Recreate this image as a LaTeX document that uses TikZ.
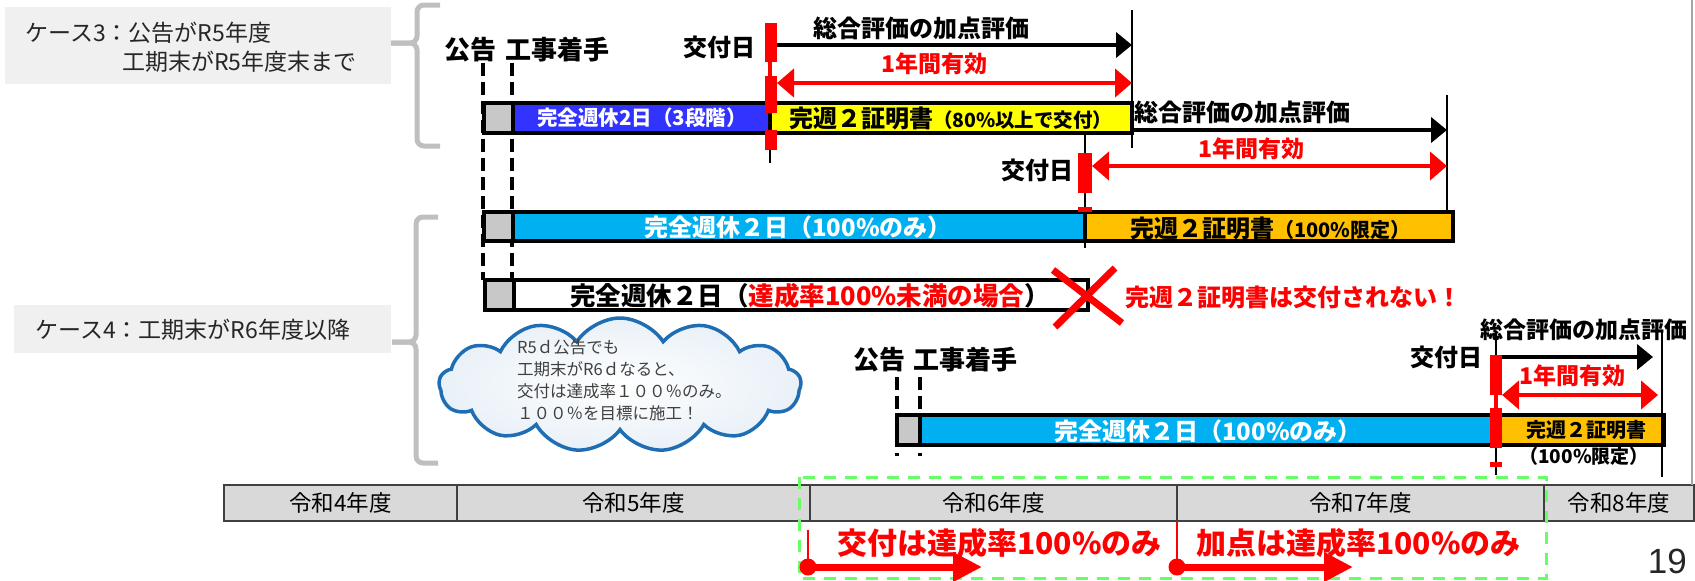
\documentclass[tikz,border=0pt]{standalone}
\usepackage{fontspec}
\setmainfont{Noto Sans CJK JP}
\newfontfamily\latinsans{Liberation Sans}
\usetikzlibrary{arrows.meta,shapes.symbols}
\definecolor{casegray}{HTML}{F0F0F0}
\definecolor{bracegray}{HTML}{BFBFBF}
\definecolor{boxgray}{HTML}{C8C8C8}
\definecolor{barblue}{HTML}{3333FF}
\definecolor{barcyan}{HTML}{00B0F0}
\definecolor{baryellow}{HTML}{FFFF00}
\definecolor{barorange}{HTML}{FFC000}
\definecolor{mred}{HTML}{FF0000}
\definecolor{yeargray}{HTML}{D9D9D9}
\definecolor{cloudblue}{HTML}{1F6DB3}
\definecolor{greendash}{HTML}{66FF66}
\newcommand\fs[1]{\fontsize{#1pt}{#1pt}\selectfont}
\begin{document}
\begin{tikzpicture}[x=1pt,y=-1pt,
  casebox/.style={fill=casegray,draw=none,inner sep=0pt,anchor=north west},
  casetxt/.style={inner sep=0pt,font=\fs{23},text=black!85},
  bracepath/.style={draw=bracegray,line width=5pt,rounded corners=7pt},
  lbl/.style={inner sep=0pt,outer sep=0pt,font=\bfseries\fs{24}},
  seg/.style={draw=black,line width=3.5pt,inner sep=0pt,minimum height=30pt},
  dashln/.style={draw=black,line width=4pt,dash pattern=on 13pt off 6pt},
  thinv/.style={draw=black,line width=1.5pt},
  blkarr/.style={draw=black,line width=4pt,-{Triangle[length=16pt,width=25pt]}},
  redarr/.style={draw=mred,line width=4.5pt,{Triangle[length=17pt,width=28pt]}-{Triangle[length=17pt,width=28pt]}},
  xline/.style={draw=mred,line width=7pt},
  yearcell/.style={draw=black!75,line width=2pt,fill=yeargray,inner sep=0pt,minimum height=36pt,font=\fs{22.5}},
  botarr/.style={draw=mred,line width=7pt,-{Triangle[length=29pt,width=28pt]}},
  botlbl/.style={inner sep=0pt,font=\bfseries\fs{30},text=mred,anchor=west}
]
\useasboundingbox (0,0) rectangle (1695,581);

% case labels
\node[casebox,minimum width=386pt,minimum height=77pt] (c3box) at (5,7) {};
\node[casetxt,anchor=west] (c3l1) at (25,33) {ケース3：公告がR5年度};
\node[casetxt,anchor=west] (c3l2) at (122,62) {工期末がR5年度末まで};
\node[casebox,minimum width=377pt,minimum height=48pt] (c4box) at (14,305) {};
\node[casetxt,anchor=west] (c4l) at (35,330) {ケース4：工期末がR6年度以降};

% braces
\draw[bracepath] (440,5) -- (417,5) -- (417,43) -- (391,43);
\draw[bracepath] (440,146) -- (417,146) -- (417,43) -- (391,43);
\draw[bracepath] (438,217) -- (416,217) -- (416,342) -- (392,342);
\draw[bracepath] (438,463) -- (416,463) -- (416,342) -- (392,342);

% upper start labels and dashed lines
\node[lbl,font=\bfseries\fs{26},anchor=west] (kk1) at (444,50) {公告};
\node[lbl,font=\bfseries\fs{26},anchor=west] (kc1) at (505,50) {工事着手};
\coordinate (d1t) at (483,63); \coordinate (d1b) at (483,280);
\coordinate (d2t) at (512,63); \coordinate (d2b) at (512,280);
\draw[dashln] (d1t) -- (d1b);
\draw[dashln] (d2t) -- (d2b);

% bar 1
\node[seg,fill=boxgray,minimum width=29pt] (b1g) at (498.5,118) {};
\node[seg,fill=barblue,minimum width=257pt] (b1b) at (641.5,118) {};
\node[seg,fill=baryellow,minimum width=362pt] (b1y) at (951,118) {};
\node[lbl,text=white,font=\bfseries\fs{20.5}] (b1bt) at (642,118) {完全週休2日（3段階）};
\node[lbl,anchor=west] (b1yt) at (789,118) {{\fs{24}完週２証明書}{\fs{19.5}（80\%以上で交付）}};

% marker 1
\coordinate (v1t) at (770,23); \coordinate (v1b) at (770,163);
\draw[thinv] (v1t) -- (v1b);
\fill[mred] (765,23) rectangle (777,62);
\draw[mred,line width=4pt] (770,62) -- (770,76);
\fill[mred] (765,76) rectangle (777,113);
\fill[mred] (765,130) rectangle (777,150);
\coordinate (v2t) at (1132,10); \coordinate (v2b) at (1132,148);
\draw[thinv] (v2t) -- (v2b);
\node[lbl,anchor=east] (kf1) at (755,47) {交付日};
\node[lbl] (sg1) at (921,28) {総合評価の加点評価};
\coordinate (a1s) at (777,45); \coordinate (a1e) at (1132,45);
\draw[blkarr] (a1s) -- (a1e);
\node[lbl,text=mred,font=\bfseries\fs{23}] (ye1) at (934,64) {1年間有効};
\coordinate (r1s) at (777,83); \coordinate (r1e) at (1132,83);
\draw[redarr] (r1s) -- (r1e);

% second evaluation group
\node[lbl,anchor=west] (sg2) at (1134,112) {総合評価の加点評価};
\coordinate (v3t) at (1447,95); \coordinate (v3b) at (1447,233);
\draw[thinv] (v3t) -- (v3b);
\coordinate (a2s) at (1134,130); \coordinate (a2e) at (1447,130);
\draw[blkarr] (a2s) -- (a2e);
\node[lbl,text=mred,font=\bfseries\fs{23}] (ye2) at (1251,149) {1年間有効};
\coordinate (r2s) at (1092,166); \coordinate (r2e) at (1447,166);
\draw[redarr] (r2s) -- (r2e);
\node[lbl,anchor=east] (kf2) at (1073,170) {交付日};

% bar 2
\node[seg,fill=boxgray,minimum width=29pt,minimum height=29pt] (b2g) at (498.5,226.5) {};
\node[seg,fill=barcyan,minimum width=572pt,minimum height=29pt] (b2c) at (799,226.5) {};
\node[seg,fill=barorange,minimum width=368pt,minimum height=29pt] (b2o) at (1269,226.5) {};
\node[lbl,text=white] (b2ct) at (798,227) {完全週休２日（100\%のみ）};
\node[lbl,anchor=west] (b2ot) at (1130,228) {{\fs{24}完週２証明書}{\fs{20}（100\%限定）}};
\coordinate (v4t) at (1085,132); \coordinate (v4b) at (1085,248);
\draw[thinv] (v4t) -- (v4b);
\fill[mred] (1078,153) rectangle (1092,193);
\fill[mred] (1078,207) rectangle (1092,212);

% bar 3
\node[seg,fill=boxgray,minimum width=29pt] (b3g) at (499.5,295) {};
\node[seg,fill=white,minimum width=574pt] (b3w) at (801,295) {};
\node[lbl,anchor=west,font=\bfseries\fs{25.5}] (b3t) at (570,296) {完全週休２日（\textcolor{mred}{達成率100\%未満の場合}）};
\draw[xline] (1053,270) -- (1122,323);
\draw[xline] (1115,268) -- (1055,327);
\node[lbl,text=mred,anchor=west] (nx) at (1125,297) {完週２証明書は交付されない！};

% cloud
\node[cloud,cloud puffs=13,cloud puff arc=115,aspect=2.6,minimum width=362pt,minimum height=134pt,
  draw=cloudblue,line width=3.5pt,inner color=white,outer color=cloudblue!10] (cloud) at (620,385) {};
\node[inner sep=0pt,anchor=west,align=left,text=black!75,font=\fontsize{16.5pt}{22pt}\selectfont] (ctext) at (517,380)
  {R5ｄ公告でも\\工期末がR6ｄなると、\\交付は達成率１００％のみ。\\１００％を目標に施工！};

% lower group
\node[lbl,font=\bfseries\fs{26},anchor=west] (kk2) at (853,360) {公告};
\node[lbl,font=\bfseries\fs{26},anchor=west] (kc2) at (913,360) {工事着手};
\coordinate (d3t) at (897,377); \coordinate (d3b) at (897,456);
\coordinate (d4t) at (920,377); \coordinate (d4b) at (920,456);
\draw[dashln,line width=3.5pt] (d3t) -- (d3b);
\draw[dashln,line width=3.5pt] (d4t) -- (d4b);
\node[seg,fill=boxgray,minimum width=23pt] (b4g) at (908.5,430) {};
\node[seg,fill=barcyan,minimum width=574pt] (b4c) at (1207,430) {};
\node[seg,fill=barorange,minimum width=170pt] (b4o) at (1579,430) {};
\node[lbl,text=white] (b4ct) at (1208,431) {完全週休２日（100\%のみ）};
\node[lbl,font=\bfseries\fs{20}] (b4ot) at (1586,430) {完週２証明書};
\node[lbl,font=\bfseries\fs{19}] (b4op) at (1584,456) {（100\%限定）};
\coordinate (v5t) at (1496,333); \coordinate (v5b) at (1496,475);
\draw[thinv] (v5t) -- (v5b);
\coordinate (v6t) at (1662,330); \coordinate (v6b) at (1662,477);
\draw[thinv] (v6t) -- (v6b);
\fill[mred] (1490,355) rectangle (1502,395);
\draw[mred,line width=4pt] (1496,395) -- (1496,408);
\fill[mred] (1490,408) rectangle (1502,448);
\fill[mred] (1490,462) rectangle (1502,467);
\node[lbl,anchor=east] (kf3) at (1482,357) {交付日};
\node[lbl,font=\bfseries\fs{23}] (sg3) at (1584,330) {総合評価の加点評価};
\coordinate (a3s) at (1502,357); \coordinate (a3e) at (1653,357);
\draw[blkarr] (a3s) -- (a3e);
\node[lbl,text=mred,font=\bfseries\fs{23}] (ye3) at (1572,376) {1年間有効};
\coordinate (r3s) at (1502,395); \coordinate (r3e) at (1658,395);
\draw[redarr] (r3s) -- (r3e);

% year row
\node[yearcell,minimum width=233pt] (y4) at (340.5,503) {令和4年度};
\node[yearcell,minimum width=353pt] (y5) at (633.5,503) {令和5年度};
\node[yearcell,minimum width=367pt] (y6) at (993.5,503) {令和6年度};
\node[yearcell,minimum width=367pt] (y7) at (1360.5,503) {令和7年度};
\node[yearcell,minimum width=150pt] (y8) at (1619,503) {令和8年度};

% green dashed frame
\draw[greendash,line width=3pt,dash pattern=on 12pt off 9pt] (799,477) rectangle (1546,578);

% bottom arrows
\node[botlbl] (bl1) at (837,543) {交付は達成率100\%のみ};
\node[botlbl] (bl2) at (1196,543) {加点は達成率100\%のみ};
\coordinate (p1t) at (808,530); \coordinate (p1) at (808,567); \coordinate (p1e) at (982,567);
\coordinate (p2t) at (1177,521); \coordinate (p2) at (1177,567); \coordinate (p2e) at (1353,567);
\draw[mred,line width=1.5pt] (p1t) -- (p1);
\draw[mred,line width=1.5pt] (p2t) -- (p2);
\fill[mred] (p1) circle[radius=8.5];
\fill[mred] (p2) circle[radius=8.5];
\draw[botarr] (p1) -- (p1e);
\draw[botarr] (p2) -- (p2e);

% page number and edge
\node[inner sep=0pt,anchor=east,font=\latinsans\fs{35},text=black!85] (pg) at (1687,561) {19};
\draw[black!35,line width=2pt] (1692,0) -- (1692,485);
\end{tikzpicture}
\end{document}
